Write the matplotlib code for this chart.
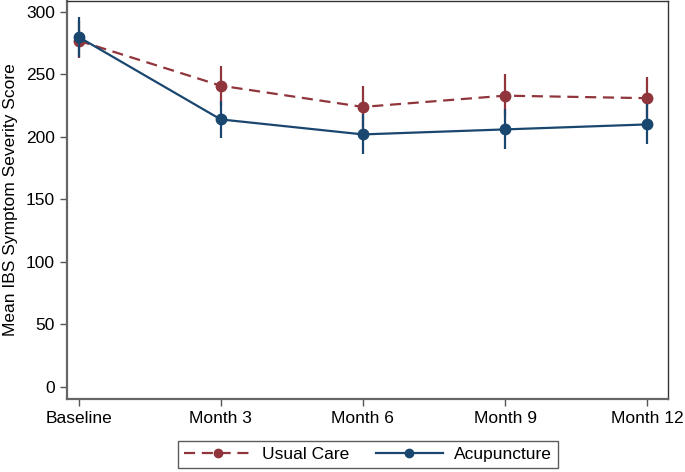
import numpy as np
import matplotlib.pyplot as plt

plt.rcParams['font.family'] = ['Liberation Sans', 'DejaVu Sans']

visits = ["Baseline", "Month 3", "Month 6", "Month 9", "Month 12"]
usual_mean = [277, 241, 224, 233, 231]
usual_lo = [263, 225, 208, 217, 215]
usual_hi = [293, 257, 241, 250, 248]
acu_mean = [280, 214, 202, 206, 210]
acu_lo = [264, 199, 186, 190, 194]
acu_hi = [296, 229, 218, 222, 226]

red = "#90353b"
navy = "#1a476f"

fig = plt.figure(figsize=(6.85, 4.72), dpi=100)
ax = fig.add_axes([0.0985, 0.155, 0.877, 0.843])

x = np.arange(len(visits))
for mean, lo, hi, col, z in [(usual_mean, usual_lo, usual_hi, red, 2),
                             (acu_mean, acu_lo, acu_hi, navy, 3)]:
    mean = np.array(mean)
    err = [mean - np.array(lo), np.array(hi) - mean]
    ax.errorbar(x, mean, yerr=err, fmt='none', ecolor=col, elinewidth=1.6, capsize=0, zorder=z)

ax.plot(x, usual_mean, color=red, ls=(0, (5, 3)), lw=1.6, marker='o', ms=7.5, zorder=2, label="Usual Care")
ax.plot(x, acu_mean, color=navy, ls='-', lw=1.6, marker='o', ms=7.5, zorder=3, label="Acupuncture")

ax.set_xlim(-0.078, 4.148)
ax.set_ylim(-9.6, 308.8)
ax.set_xticks(x)
ax.set_xticklabels(visits)
ax.set_yticks(np.arange(0, 301, 50))
ax.set_ylabel("Mean IBS Symptom Severity Score", fontsize=12.5, labelpad=6)
ax.tick_params(labelsize=12.5, length=5, color="#555555", width=1, pad=4)
for s in ax.spines.values():
    s.set_color("#333333")
    s.set_linewidth(1)
for s in ["left", "bottom"]:
    ax.spines[s].set_color("#666666")
    ax.spines[s].set_linewidth(1.6)

fig.legend(loc='center', bbox_to_anchor=(0.537, 0.037), ncol=2, fontsize=12.5,
           frameon=True, fancybox=False, edgecolor='#333333', handlelength=3.9,
           handletextpad=0.6, markerscale=0.8, columnspacing=1.5, borderpad=0.35)

fig.savefig("out.png", dpi=100)
